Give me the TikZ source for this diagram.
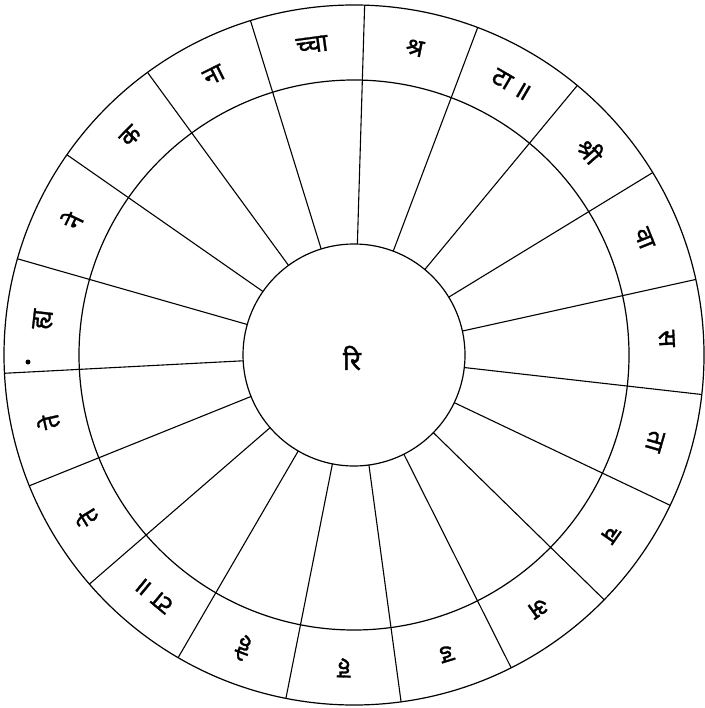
\documentclass[tikz,border=0pt]{standalone}
\usepackage{fontspec}
\newfontfamily\deva[Script=Devanagari,FakeBold=1.2]{Noto Sans}
\begin{document}
\begin{tikzpicture}[x=1pt,y=-1pt,
  ring/.style={line width=1.2pt,black},
  spoke/.style={line width=1.1pt,black},
  lab/.style={font=\deva\fontsize{25}{27}\selectfont, inner sep=0pt}]
\useasboundingbox (0,0) rectangle (704,708);
\fill[white] (0,0) rectangle (704,708);
\begin{scope}[shift={(354,355)}]
  \draw[ring] (0,0) circle[radius=350pt];
  \draw[ring] (0,0) circle[radius=275pt];
  \draw[ring] (0,0) circle[radius=111pt];
  \foreach \k in {0,...,18}{
    \pgfmathsetmacro\a{88.26+18.947*\k}
    \draw[spoke] (\a:111pt) -- (\a:350pt);
  }
  \node[lab, font=\deva\fontsize{27}{29}\selectfont] (centre) at (-2pt,-3pt) {रि};
  \foreach \t/\a [count=\i] in {
     श्री/40.9, वा/21.9, स/3.0, ता/344.0, च/325.1, अ/306.1,
     ड/287.2, ह/268.2, हे/249.3, टा ॥/230.3, ते/211.4, ते/192.4,
     ह्य/173.5, ने/154.5, क/135.6, ना/116.6, च्चा/97.7, श्र/78.8, टा ॥/59.8}{
    \node[lab, rotate=\a-90] (L\i) at (\a:313pt) {\t};
  }
\end{scope}
\fill (28,362) circle[radius=2.5pt];
\end{tikzpicture}
\end{document}
